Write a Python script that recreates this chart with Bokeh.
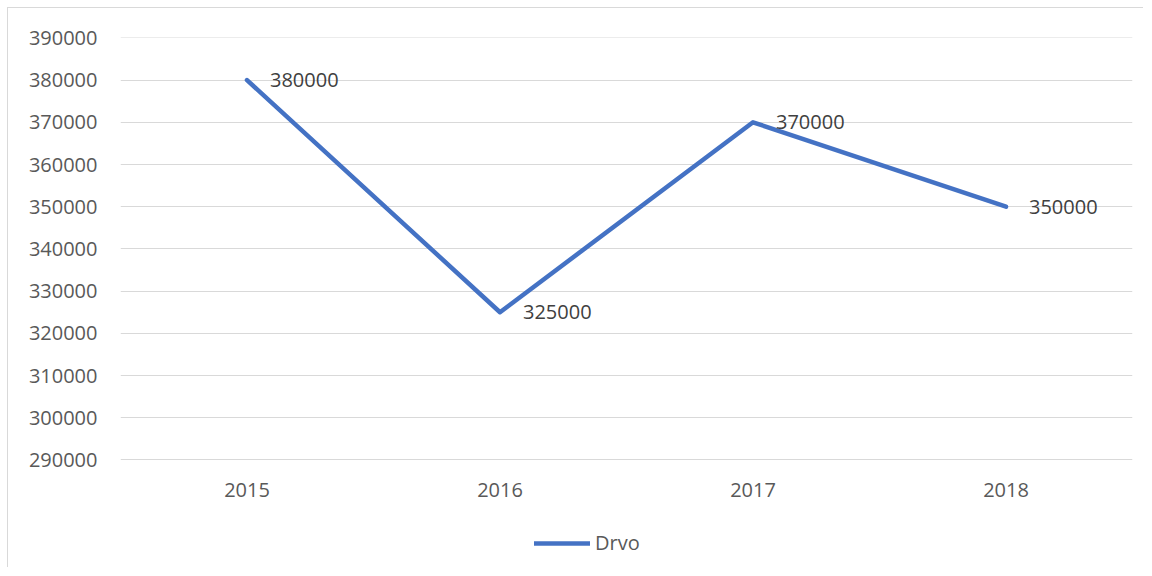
from bokeh.plotting import figure
from bokeh.models import ColumnDataSource, LabelSet, Legend, LegendItem, Range1d, FixedTicker, NumeralTickFormatter
from bokeh.embed import file_html
from bokeh.resources import INLINE
from bokeh.core.properties import value

years = ["2015", "2016", "2017", "2018"]
drvo = [380000, 325000, 370000, 350000]
label_texts = [str(v) for v in drvo]
y_ticks = list(range(290000, 390001, 10000))
y_axis_min = 290000
y_axis_max = 390000

FONT = "Open Sans"
TXT = "#595959"
FS = "20px"

W, H = 1136, 560
TOP, LEFT, RIGHT, BOTTOM = 29, 112, 12, 0
frame_h = H - TOP - BOTTOM
px_per_unit = 422 / (y_axis_max - y_axis_min)
y_end = y_axis_max + 100
y_start = y_end - frame_h / px_per_unit

src = ColumnDataSource(dict(x=years, y=drvo, t=label_texts))

p = figure(x_range=years, width=W, height=H, output_backend="svg",
           toolbar_location=None, min_border_left=LEFT, min_border_right=RIGHT,
           min_border_top=TOP, min_border_bottom=BOTTOM)
p.x_range.range_padding = 0
p.y_range = Range1d(y_start, y_end)
p.styles = {"margin": "7px 0 0 7px", "border-top": "1px solid #d9d9d9", "border-left": "1px solid #d9d9d9"}

p.outline_line_color = None
p.background_fill_color = "white"
p.border_fill_color = "white"

p.yaxis.ticker = FixedTicker(ticks=y_ticks)
p.yaxis.formatter = NumeralTickFormatter(format="0")
p.xaxis.fixed_location = y_axis_min
for ax in (p.xaxis[0], p.yaxis[0]):
    ax.axis_line_color = None
    ax.major_tick_line_color = None
    ax.minor_tick_line_color = None
    ax.major_tick_out = 0
    ax.major_tick_in = 0
    ax.minor_tick_out = 0
    ax.minor_tick_in = 0
    ax.major_label_text_font = FONT
    ax.major_label_text_font_size = FS
    ax.major_label_text_color = TXT
p.yaxis.major_label_standoff = 23
p.xaxis.major_label_standoff = 23

p.xgrid.grid_line_color = None
p.ygrid.grid_line_color = "#d9d9d9"
p.ygrid.grid_line_width = 1

r = p.line("x", "y", source=src, line_color="#4472C4", line_width=4.5, line_cap="round", line_join="round")

labels = LabelSet(x="x", y="y", text="t", source=src, x_offset=23, y_offset=0,
                  text_baseline="middle", text_align="left",
                  text_font=value(FONT), text_font_size=FS, text_color="#404040")
p.add_layout(labels)

legend = Legend(items=[LegendItem(label="Drvo", renderers=[r])], location=(414, 12),
                orientation="horizontal", padding=0, margin=0, spacing=0,
                glyph_width=56, glyph_height=20, label_standoff=5,
                label_text_font=FONT, label_text_font_size=FS, label_text_color=TXT,
                border_line_color=None, background_fill_alpha=0)
p.add_layout(legend, "center")

open("out.html", "w").write(file_html(p, INLINE))
